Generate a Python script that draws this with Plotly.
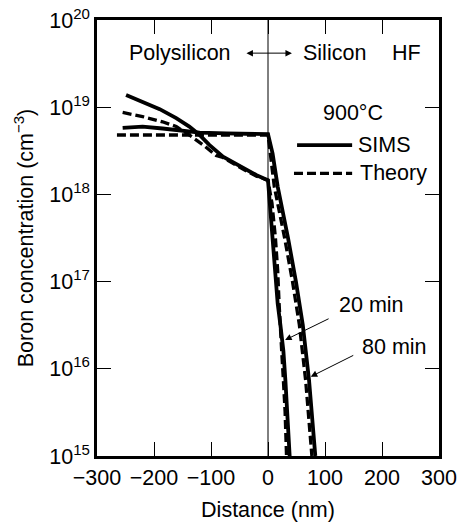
import plotly.graph_objects as go

# ---- data (distance in nm, boron concentration in cm^-3) ----
sims20_x = [-249, -220, -190, -161, -138, -120, -103, -79, -44, -20, 0,
            3, 7, 12, 17, 21.7, 27, 30.5, 34, 38]
sims20_c = [1.38e19, 1.16e19, 9.5e18, 7.5e18, 6.0e18, 4.8e18, 3.7e18, 2.7e18, 2.0e18, 1.66e18, 1.45e18,
            7.9e17, 3.2e17, 1.35e17, 5.6e16, 3.2e16, 1.6e16, 7.4e15, 3.2e15, 1.0e15]

theory20_x = [-255, -220, -185, -161, -138, -114, -91, -79, -44, -20, 0,
              7, 13, 17, 19.5, 21, 24, 27, 30, 32.5]
theory20_c = [8.7e18, 7.8e18, 6.8e18, 6.0e18, 4.8e18, 3.7e18, 2.8e18, 2.65e18, 1.95e18, 1.62e18, 1.45e18,
              7.9e17, 3.2e17, 1.35e17, 5.6e16, 3.2e16, 1.6e16, 7.4e15, 3.2e15, 1.0e15]

sims80_x = [-255, -220, -185, -150, -120, -73, 0,
            8, 17, 35, 49, 61, 72, 83]
sims80_c = [5.8e18, 6.0e18, 5.7e18, 5.4e18, 5.1e18, 5.0e18, 4.9e18,
            2.95e18, 1.23e18, 3.2e17, 1.0e17, 3.2e16, 7.4e15, 1.0e15]

theory80_x = [-265, 0, 4, 11, 29, 43, 55, 66, 77]
theory80_c = [4.8e18, 4.8e18, 2.95e18, 1.23e18, 3.2e17, 1.0e17, 3.2e16, 7.4e15, 1.0e15]

x_ticks = [-300, -200, -100, 0, 100, 200, 300]
x_ticklabels = ["\u2212300", "\u2212200", "\u2212100", "0", "100", "200", "300"]
y_ticks = [1e15, 1e16, 1e17, 1e18, 1e19, 1e20]
y_ticklabels = ["10<sup>15</sup>", "10<sup>16</sup>", "10<sup>17</sup>",
                "10<sup>18</sup>", "10<sup>19</sup>", "10<sup>20</sup>"]

FONT = "Liberation Sans, Arial, Helvetica, sans-serif"
FS = 21.5
SOLID_W = 3.8
DASH_W = 3.3
DASH = "9px,4px"

fig = go.Figure()
for xs, cs, name in [(theory20_x, theory20_c, "Theory 20 min"), (theory80_x, theory80_c, "Theory 80 min")]:
    fig.add_trace(go.Scatter(x=xs, y=cs, mode="lines", name=name, showlegend=False,
                             line=dict(color="black", width=DASH_W, dash=DASH)))
for xs, cs, name in [(sims20_x, sims20_c, "SIMS 20 min"), (sims80_x, sims80_c, "SIMS 80 min")]:
    fig.add_trace(go.Scatter(x=xs, y=cs, mode="lines", name=name, showlegend=False,
                             line=dict(color="black", width=SOLID_W)))

# interface line
fig.add_shape(type="line", xref="x", yref="paper", x0=0, x1=0, y0=0, y1=1,
              line=dict(color="black", width=1))

# legend keys
fig.add_shape(type="line", xref="paper", yref="paper", x0=0.585, x1=0.746, y0=0.713, y1=0.713,
              line=dict(color="black", width=SOLID_W))
fig.add_shape(type="line", xref="paper", yref="paper", x0=0.576, x1=0.746, y0=0.648, y1=0.648,
              line=dict(color="black", width=DASH_W, dash=DASH))

txt = dict(xref="paper", yref="paper", showarrow=False, yanchor="middle",
           font=dict(family=FONT, size=FS, color="black"))
fig.add_annotation(text="Polysilicon", x=0.243, y=0.924, xanchor="center", **txt)
fig.add_annotation(text="Silicon", x=0.693, y=0.924, xanchor="center", **txt)
fig.add_annotation(text="HF", x=0.906, y=0.924, xanchor="center", **txt)
fig.add_annotation(text="900°C", x=0.748, y=0.787, xanchor="center", **txt)
fig.add_annotation(text="SIMS", x=0.758, y=0.713, xanchor="left", **txt)
fig.add_annotation(text="Theory", x=0.762, y=0.648, xanchor="left", **txt)
fig.add_annotation(text="20 min", x=0.803, y=0.346, xanchor="center", **txt)
fig.add_annotation(text="80 min", x=0.871, y=0.251, xanchor="center", **txt)

arr = dict(xref="paper", yref="paper", text="", showarrow=True, arrowhead=2, arrowsize=1.3,
           arrowwidth=1, arrowcolor="black")
fig.add_annotation(x=0.570, y=0.924, ax=-47, ay=0, arrowside="end+start", **arr)
fig.add_annotation(x=0.550, y=0.266, ax=45, ay=-22, **arr)
fig.add_annotation(x=0.625, y=0.182, ax=44, ay=-22, **arr)

axis_common = dict(showline=True, linewidth=2.5, linecolor="black", mirror="ticks",
                   ticks="inside", ticklen=14, tickwidth=1.3, tickcolor="black",
                   showgrid=False, zeroline=False, automargin=False,
                   tickfont=dict(family=FONT, size=FS, color="black"))

fig.update_xaxes(range=[-300, 300], tickvals=x_ticks, ticktext=x_ticklabels,
                 title=dict(text="Distance (nm)", font=dict(family=FONT, size=FS, color="black"), standoff=19),
                 **axis_common)
fig.update_yaxes(type="log", range=[15, 20], tickvals=y_ticks, ticktext=y_ticklabels,
                 title=dict(text="Boron concentration (cm<sup>\u22123</sup>)",
                            font=dict(family=FONT, size=FS, color="black"), standoff=10),
                 **axis_common)

fig.update_layout(width=459, height=522, autosize=False,
                  margin=dict(l=97, r=20, t=20, b=66),
                  plot_bgcolor="white", paper_bgcolor="white",
                  font=dict(family=FONT, size=FS, color="black"))

fig.write_html("out.html")
